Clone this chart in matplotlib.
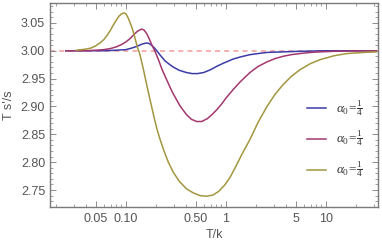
import matplotlib
matplotlib.use("Agg")
import matplotlib.pyplot as plt
from matplotlib.ticker import FixedLocator, NullFormatter

plt.rcParams['font.family'] = ['Liberation Sans', 'DejaVu Sans']
plt.rcParams['mathtext.fontset'] = 'custom'
plt.rcParams['mathtext.rm'] = 'Liberation Serif'
plt.rcParams['mathtext.it'] = 'Liberation Serif:italic'

# --- data ---
x_blue = [0.025, 0.06, 0.08, 0.1, 0.115, 0.129, 0.145, 0.156, 0.167, 0.177, 0.19, 0.203, 0.22, 0.245,
          0.27, 0.295, 0.34, 0.4, 0.46, 0.52, 0.6, 0.7, 0.807, 0.95, 1.175, 1.4, 1.738, 2.1, 2.57,
          3.7, 5.5, 10, 32]
y_blue = [3.000, 3.000, 3.001, 3.002, 3.005, 3.008, 3.012, 3.0135, 3.0137, 3.011, 3.006, 3.000, 2.992, 2.982,
          2.976, 2.971, 2.965, 2.961, 2.959, 2.959, 2.961, 2.966, 2.972, 2.978, 2.985, 2.989, 2.993, 2.995, 2.997,
          2.998, 2.999, 3.000, 3.000]

x_purple = [0.025, 0.04, 0.05, 0.06, 0.07, 0.08, 0.09, 0.1, 0.11, 0.12, 0.13, 0.1436, 0.152, 0.162,
            0.172, 0.183, 0.195, 0.21, 0.23, 0.255, 0.29, 0.347, 0.4, 0.45, 0.509, 0.57, 0.65, 0.73,
            0.807, 0.9, 1.0, 1.175, 1.4, 1.738, 2.1, 2.57, 3.1, 3.715, 4.5, 5.495, 7, 8.71, 12, 18, 32]
y_purple = [3.000, 3.000, 3.001, 3.002, 3.004, 3.007, 3.011, 3.016, 3.022, 3.029, 3.035, 3.039, 3.037, 3.030,
            3.020, 3.009, 2.999, 2.985, 2.966, 2.948, 2.926, 2.901, 2.886, 2.877, 2.873, 2.873, 2.878, 2.886,
            2.894, 2.904, 2.915, 2.930, 2.945, 2.961, 2.972, 2.980, 2.986, 2.990, 2.993, 2.995, 2.997, 2.998,
            2.999, 2.9995, 3.000]

x_olive = [0.032, 0.04, 0.045, 0.05, 0.055, 0.06, 0.065, 0.07, 0.074, 0.08, 0.085, 0.09, 0.0955, 0.1,
           0.105, 0.11, 0.115, 0.12, 0.125, 0.13, 0.138, 0.15, 0.162, 0.174, 0.19, 0.205, 0.219, 0.24,
           0.265, 0.297, 0.34, 0.404, 0.47, 0.55, 0.641, 0.74, 0.85, 0.97, 1.1, 1.25, 1.45, 1.738, 2.1,
           2.57, 3.1, 3.715, 4.5, 5.495, 7, 8.71, 12, 16.2, 24, 32]
y_olive = [3.001, 3.003, 3.005, 3.009, 3.014, 3.020, 3.028, 3.037, 3.045, 3.055, 3.062, 3.066, 3.068, 3.066,
           3.059, 3.050, 3.041, 3.030, 3.018, 3.006, 2.993, 2.965, 2.937, 2.912, 2.882, 2.858, 2.841, 2.820,
           2.800, 2.782, 2.766, 2.752, 2.745, 2.740, 2.739, 2.741, 2.748, 2.759, 2.773, 2.792, 2.815, 2.841, 2.872,
           2.900, 2.922, 2.939, 2.954, 2.966, 2.977, 2.984, 2.991, 2.995, 2.997, 2.998]

ref_level = 3.0
labels = [r'$\alpha_0\!=\!\frac{1}{4}$', r'$\alpha_0\!=\!\frac{1}{4}$', r'$\alpha_0\!=\!\frac{1}{4}$']
colors = ['#3b3ba8', '#a2386f', '#a3963f']

x_ticks = [0.05, 0.10, 0.50, 1, 5, 10]
x_ticklabels = ['0.05', '0.10', '0.50', '1', '5', '10']
y_ticks = [2.75, 2.80, 2.85, 2.90, 2.95, 3.00, 3.05]
y_ticklabels = ['2.75', '2.80', '2.85', '2.90', '2.95', '3.00', '3.05']

# --- figure ---
fig = plt.figure(figsize=(3.82, 2.47), dpi=100)
ax = fig.add_axes([50/382, 40/247, 328/382, 204/247])

ax.axhline(ref_level, color='#f4a3a3', lw=1.2, ls=(0, (3, 2.5)), zorder=1)
series = [(x_blue, y_blue), (x_purple, y_purple), (x_olive, y_olive)]
lines = []
for (xs, ys), c, lab in zip(series, colors, labels):
    ln, = ax.plot(xs, ys, color=c, lw=1.1, label=lab, zorder=2)
    lines.append(ln)

ax.set_xscale('log')
ax.set_xlim(10**-1.76, 10**1.52)
ax.set_ylim(2.7196, 3.0857)

gray = '#555555'
framec = '#7a7a7a'
ax.xaxis.set_major_locator(FixedLocator(x_ticks))
ax.set_xticklabels(x_ticklabels)
minor_x = []
for dec in [0.01, 0.1, 1, 10]:
    for m in range(1, 10):
        minor_x.append(dec * m)
ax.xaxis.set_minor_locator(FixedLocator(minor_x))
ax.xaxis.set_minor_formatter(NullFormatter())
ax.yaxis.set_major_locator(FixedLocator(y_ticks))
ax.set_yticklabels(y_ticklabels)
ax.yaxis.set_minor_locator(FixedLocator([2.72 + 0.01 * i for i in range(37)]))

ax.tick_params(which='both', direction='in', top=True, right=True, colors=framec,
               labelcolor=gray, labelsize=9)
ax.tick_params(which='major', length=4, width=0.6)
ax.tick_params(which='minor', length=2, width=0.5)
ax.tick_params(axis='x', which='major', pad=4)
for s in ax.spines.values():
    s.set_color(framec)
    s.set_linewidth(1.0)

ax.set_xlabel('T/k', color=gray, fontsize=9, labelpad=3)
ax.set_ylabel("T s'/s", color=gray, fontsize=9, labelpad=4)

leg = ax.legend(handles=lines, loc='upper left', bbox_to_anchor=(300/382, 1 - 92/247),
                bbox_transform=fig.transFigure, frameon=False, fontsize=9.5,
                handlelength=1.5, handletextpad=0.7, labelspacing=0.8, borderpad=0)
for t in leg.get_texts():
    t.set_color('#333333')

fig.savefig('out.png', dpi=100)
